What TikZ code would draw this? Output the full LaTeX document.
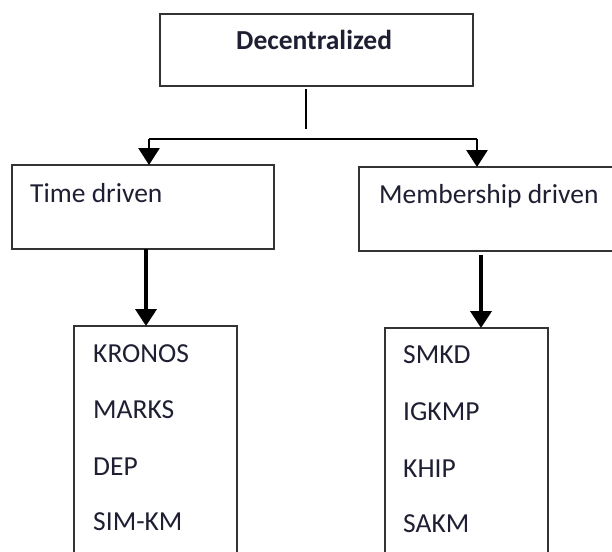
\documentclass[tikz,border=0pt]{standalone}
\usepackage{fontspec}
\setmainfont{Carlito}
\usetikzlibrary{arrows.meta}
\definecolor{ink}{rgb}{0.12,0.12,0.2}
\definecolor{edge}{rgb}{0.2,0.2,0.2}
\begin{document}
\begin{tikzpicture}[x=1pt,y=-1pt,
  box/.style={draw=edge, line width=1.8pt, rectangle, inner sep=0pt, outer sep=0pt, anchor=north west},
  lbl/.style={anchor=base west, inner sep=0pt, text=ink, font=\fontsize{27.5}{31}\selectfont},
  conn/.style={draw=black, line width=2.2pt},
  arr/.style={draw=black, line width=2.8pt, -{Triangle[width=21pt,length=17pt]}},
  bigarr/.style={draw=black, line width=3.8pt, -{Triangle[width=21pt,length=17pt]}}]
\clip (0,0) rectangle (612,551);
\fill[white] (0,0) rectangle (612,551);
% boxes
\node[box, minimum width=313pt, minimum height=72pt] (top) at (160,14) {};
\node[box, minimum width=262pt, minimum height=84pt] (left) at (12,165) {};
\node[box, minimum width=290pt, minimum height=84pt] (right) at (359,167) {};
\node[box, minimum width=163pt, minimum height=260pt] (listL) at (74,326) {};
\node[box, minimum width=163pt, minimum height=260pt] (listR) at (385,328) {};
% texts
\node[lbl, font=\fontsize{27.5}{31}\selectfont\bfseries] (tDec) at (236,49) {Decentralized};
\node[lbl] (tTime) at (30,202) {Time driven};
\node[lbl] (tMem) at (379,203) {Membership driven};
\node[lbl] (k1) at (93,362) {KRONOS};
\node[lbl] (k2) at (93,418) {MARKS};
\node[lbl] (k3) at (93,475) {DEP};
\node[lbl] (k4) at (93,530) {SIM-KM};
\node[lbl] (m1) at (403,363) {SMKD};
\node[lbl] (m2) at (403,420) {IGKMP};
\node[lbl] (m3) at (403,477) {KHIP};
\node[lbl] (m4) at (403,532) {SAKM};
% connectors
\coordinate (stemTop) at (306,89);
\coordinate (stemBot) at (306,129);
\coordinate (hl) at (149,139);
\coordinate (hr) at (477,139);
\coordinate (la) at (146,0);
\coordinate (ra) at (481,0);
\draw[conn] (stemTop) -- (stemBot);
\draw[conn] (hl) -- (hr);
\draw[arr] (hl) -- (hl |- left.north);
\draw[arr] (hr) -- (hr |- right.north);
\draw[bigarr] (la |- left.south) -- (la |- listL.north);
\draw[bigarr] ([yshift=-4pt]ra |- right.south) -- (ra |- listR.north);
\end{tikzpicture}
\end{document}
